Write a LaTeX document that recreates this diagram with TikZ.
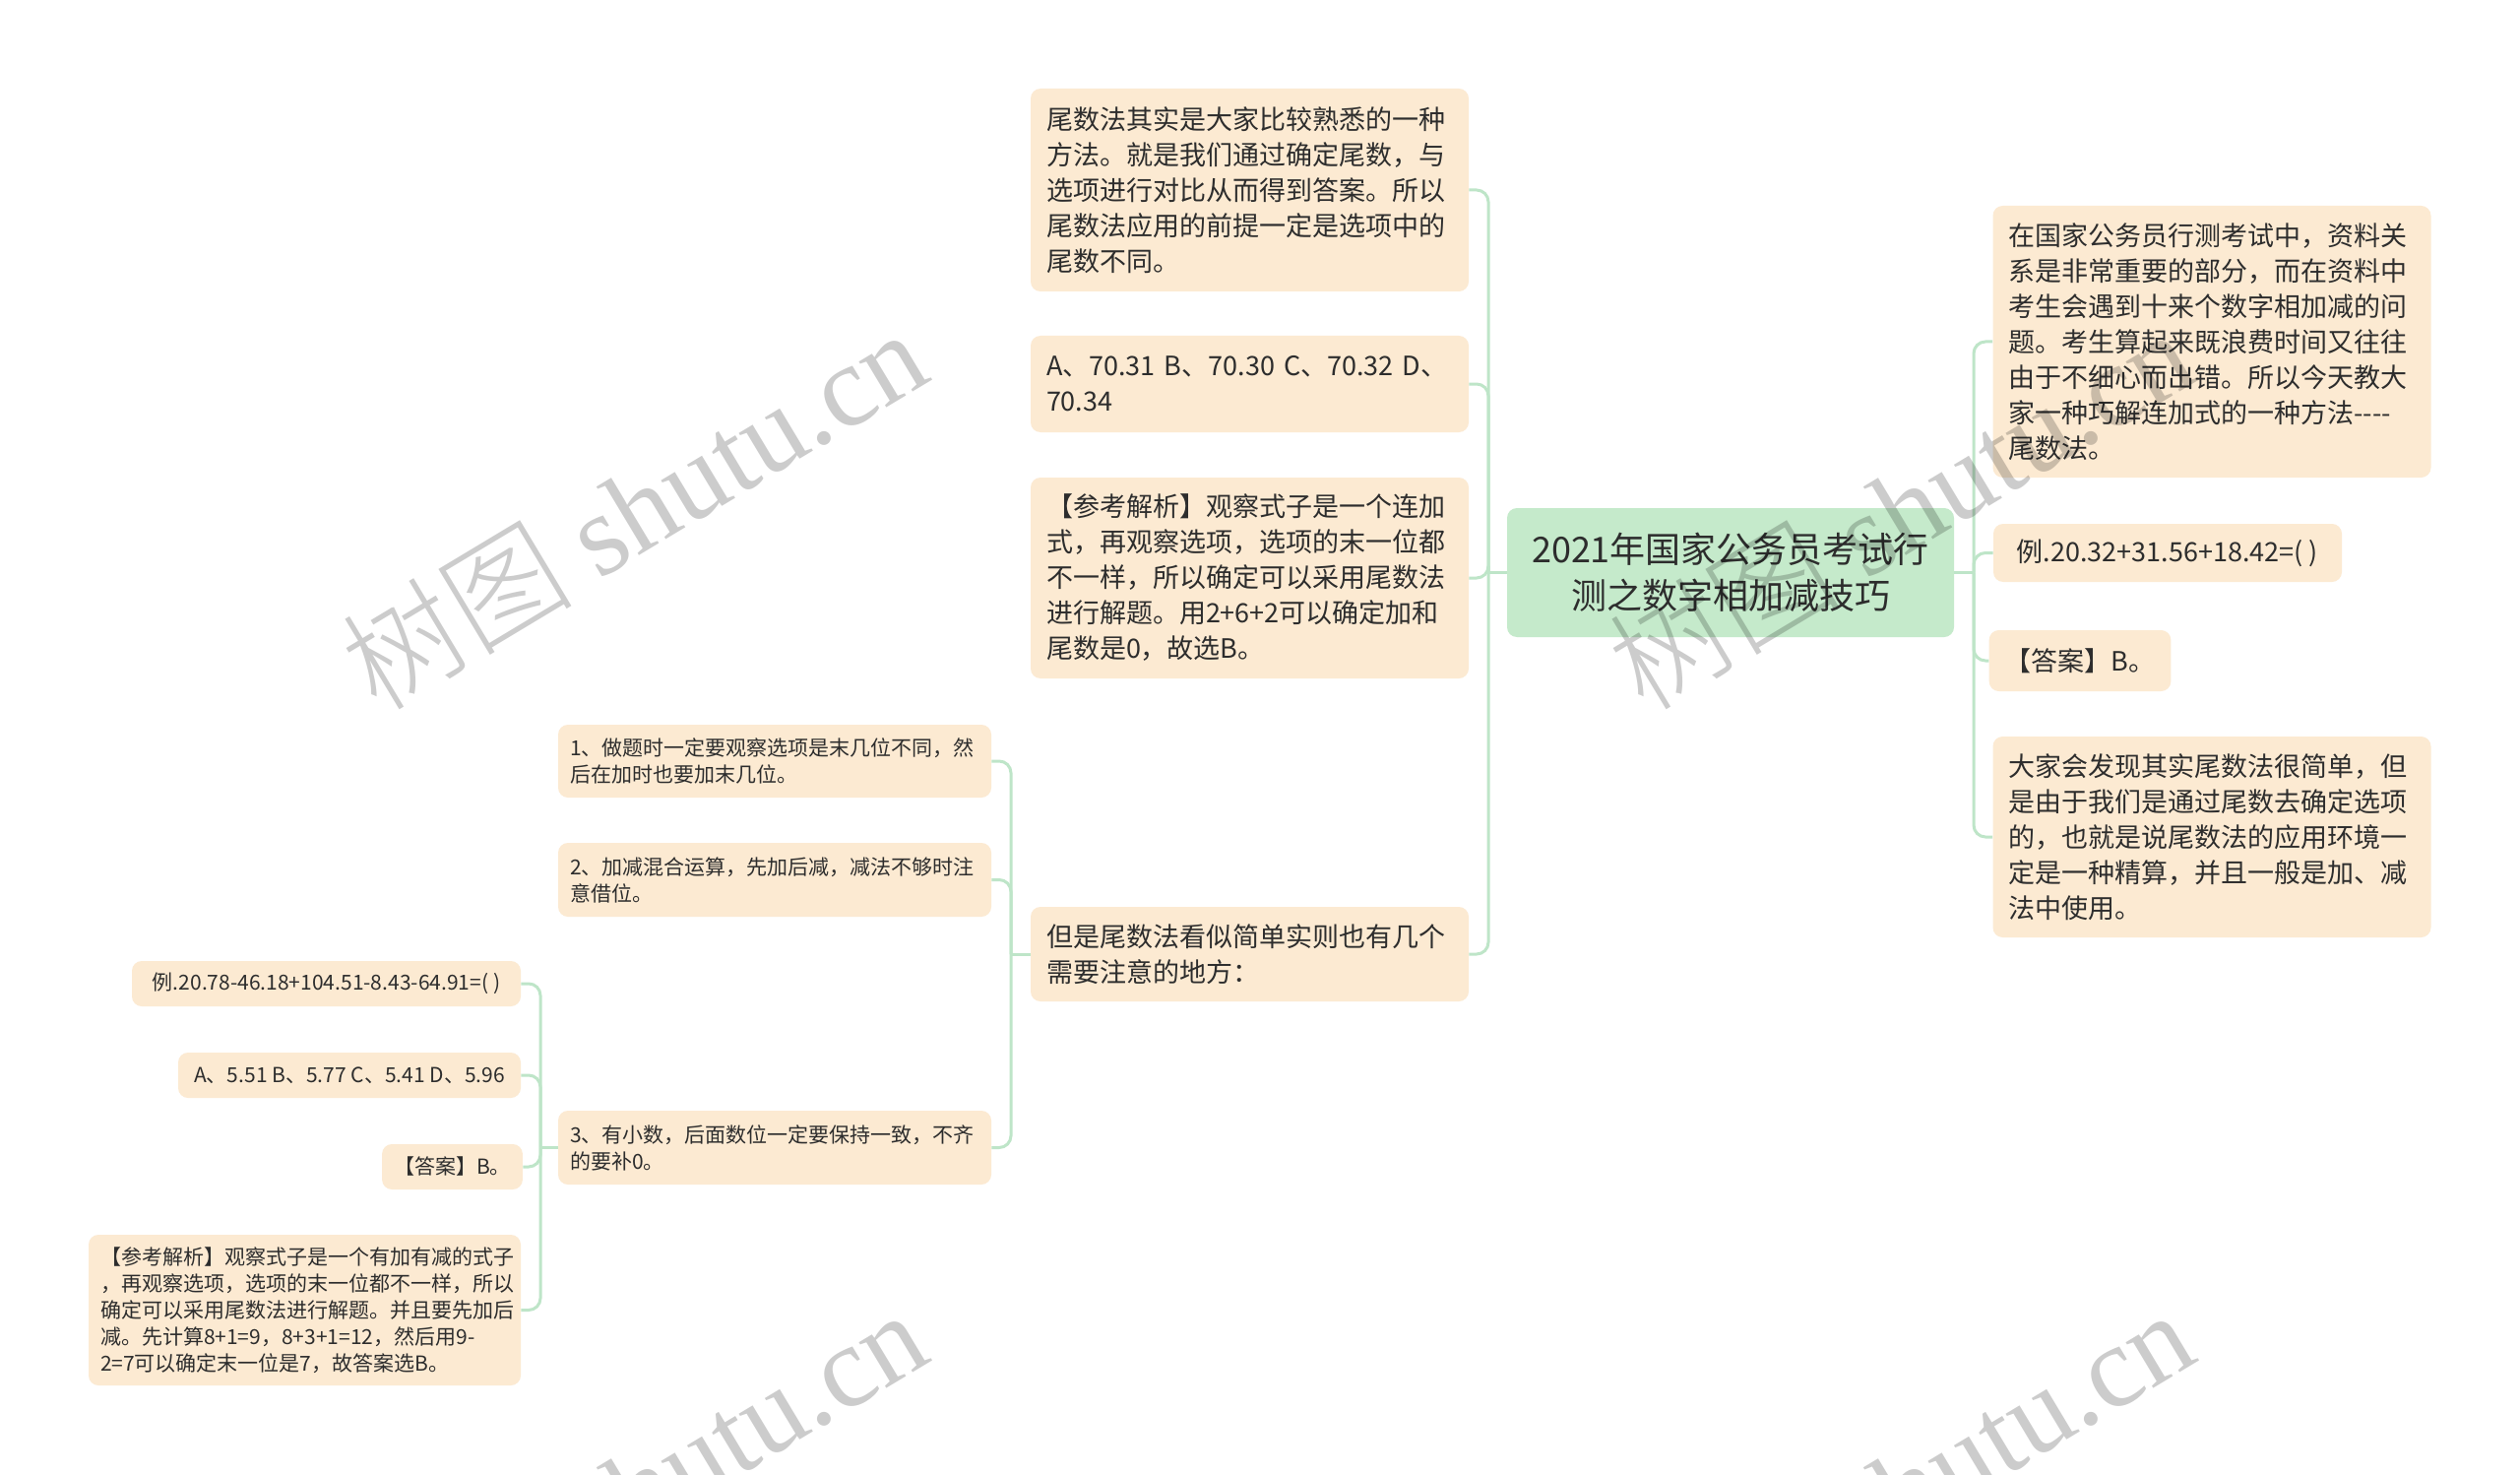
\documentclass[tikz,border=0pt]{standalone}
\usepackage{fontspec}
\setmainfont{Noto Sans CJK SC}
\newfontfamily\wmlatin{Liberation Serif}
\newfontfamily\wmcjk{Noto Sans CJK SC Light}
\definecolor{boxfill}{RGB}{252,234,210}
\definecolor{rootfill}{RGB}{197,234,203}
\definecolor{linec}{RGB}{190,229,200}
\definecolor{txt}{RGB}{45,45,45}
\tikzset{
  base/.style={rectangle, rounded corners=5pt, inner ysep=0pt, text=txt},
  topic/.style={base, fill=rootfill, font=\fontsize{18}{23.5}\selectfont, align=center, minimum width=227pt, minimum height=65.5pt, inner xsep=0pt},
  big/.style={base, fill=boxfill, font=\fontsize{13.5}{18}\selectfont, inner xsep=8pt},
  bigpar/.style={big, text width=206.5pt, align=left},
  small/.style={base, fill=boxfill, font=\fontsize{10.5}{13.5}\selectfont, inner xsep=6pt},
  smallpar/.style={small, align=left},
  conn/.style={draw=linec, line width=1.5pt, rounded corners=6pt},
  wm/.style={text=black, opacity=0.2, rotate=31, inner sep=0pt, font=\fontsize{59}{59}\selectfont}
}
\begin{document}
\begin{tikzpicture}[x=0.5pt, y=-0.5pt]
\useasboundingbox (0,0) rectangle (2560,1498);
\fill[white] (0,0) rectangle (2560,1498);

% nodes
\node[topic] (root) at (1758,581.5) {2021年国家公务员考试行\\测之数字相加减技巧};

\node[bigpar, minimum height=103pt] (m1) at (1269.5,193) {尾数法其实是大家比较熟悉的一种\\方法。就是我们通过确定尾数，与\\选项进行对比从而得到答案。所以\\尾数法应用的前提一定是选项中的\\尾数不同。};
\node[bigpar, minimum height=49pt] (m2) at (1269.5,390) {A、70.31 B、70.30 C、70.32 D、\\70.34};
\node[bigpar, minimum height=102pt] (m3) at (1269.5,587) {【参考解析】观察式子是一个连加\\式，再观察选项，选项的末一位都\\不一样，所以确定可以采用尾数法\\进行解题。用2+6+2可以确定加和\\尾数是0，故选B。};
\node[bigpar, minimum height=48pt] (m4) at (1269.5,969) {但是尾数法看似简单实则也有几个\\需要注意的地方：};

\node[bigpar, minimum height=138pt] (r1) at (2247,347) {在国家公务员行测考试中，资料关\\系是非常重要的部分，而在资料中\\考生会遇到十来个数字相加减的问\\题。考生算起来既浪费时间又往往\\由于不细心而出错。所以今天教大\\家一种巧解连加式的一种方法-{}-{}-{}-\\尾数法。};
\node[big, minimum width=177pt, minimum height=29.5pt] (r2) at (2202,561.5) {例.20.32+31.56+18.42=( )};
\node[big, minimum width=88pt, minimum height=31pt] (r3) at (2113,671) {【答案】B。};
\node[bigpar, minimum height=102pt] (r4) at (2247,850) {大家会发现其实尾数法很简单，但\\是由于我们是通过尾数去确定选项\\的，也就是说尾数法的应用环境一\\定是一种精算，并且一般是加、减\\法中使用。};

\node[smallpar, text width=208pt, minimum height=37pt] (n1) at (787,773) {1、做题时一定要观察选项是末几位不同，然\\后在加时也要加末几位。};
\node[smallpar, text width=208pt, minimum height=37.5pt] (n2) at (787,893.5) {2、加减混合运算，先加后减，减法不够时注\\意借位。};
\node[smallpar, text width=208pt, minimum height=37.5pt] (n3) at (787,1165.5) {3、有小数，后面数位一定要保持一致，不齐\\的要补0。};

\node[small, minimum width=197.5pt, minimum height=23pt] (p1) at (331.5,999) {例.20.78-46.18+104.51-8.43-64.91=( )};
\node[small, minimum width=174pt, minimum height=23pt] (p2) at (355,1092) {A、5.51 B、5.77 C、5.41 D、5.96};
\node[small, minimum width=69.5pt, minimum height=23pt] (p3) at (459.5,1185) {【答案】B。};
\node[smallpar, text width=207.5pt, minimum height=76.5pt] (p4) at (309.5,1330.5) {【参考解析】观察式子是一个有加有减的式子\\，再观察选项，选项的末一位都不一样，所以\\确定可以采用尾数法进行解题。并且要先加后\\减。先计算8+1=9，8+3+1=12，然后用9-\\2=7可以确定末一位是7，故答案选B。};

% junctions
\coordinate (jl) at (1512,581.5);
\coordinate (jr) at (2005,581.5);
\coordinate (jm) at (1027,969);
\coordinate (jn) at (549,1165.5);

% connectors
\draw[conn] (root.west) -- (jl);
\draw[conn] (jl) |- (m1.east);
\draw[conn] (jl) |- (m2.east);
\draw[conn] (jl) |- (m3.east);
\draw[conn] (jl) |- (m4.east);

\draw[conn] (root.east) -- (jr);
\draw[conn] (jr) |- (r1.west);
\draw[conn] (jr) |- (r2.west);
\draw[conn] (jr) |- (r3.west);
\draw[conn] (jr) |- (r4.west);

\draw[conn] (m4.west) -- (jm);
\draw[conn] (jm) |- (n1.east);
\draw[conn] (jm) |- (n2.east);
\draw[conn] (jm) |- (n3.east);

\draw[conn] (n3.west) -- (jn);
\draw[conn] (jn) |- (p1.east);
\draw[conn] (jn) |- (p2.east);
\draw[conn] (jn) |- (p3.east);
\draw[conn] (jn) |- (p4.east);

% watermarks
\begin{scope}
\clip (0,0) rectangle (2560,1498);
\node[wm] (wm1) at (643,516) {{\wmcjk 树图} {\wmlatin shutu.cn}};
\node[wm] (wm2) at (1930,516) {{\wmcjk 树图} {\wmlatin shutu.cn}};
\node[wm] (wm3) at (643,1512) {{\wmcjk 树图} {\wmlatin shutu.cn}};
\node[wm] (wm4) at (1930,1512) {{\wmcjk 树图} {\wmlatin shutu.cn}};
\end{scope}
\end{tikzpicture}
\end{document}
